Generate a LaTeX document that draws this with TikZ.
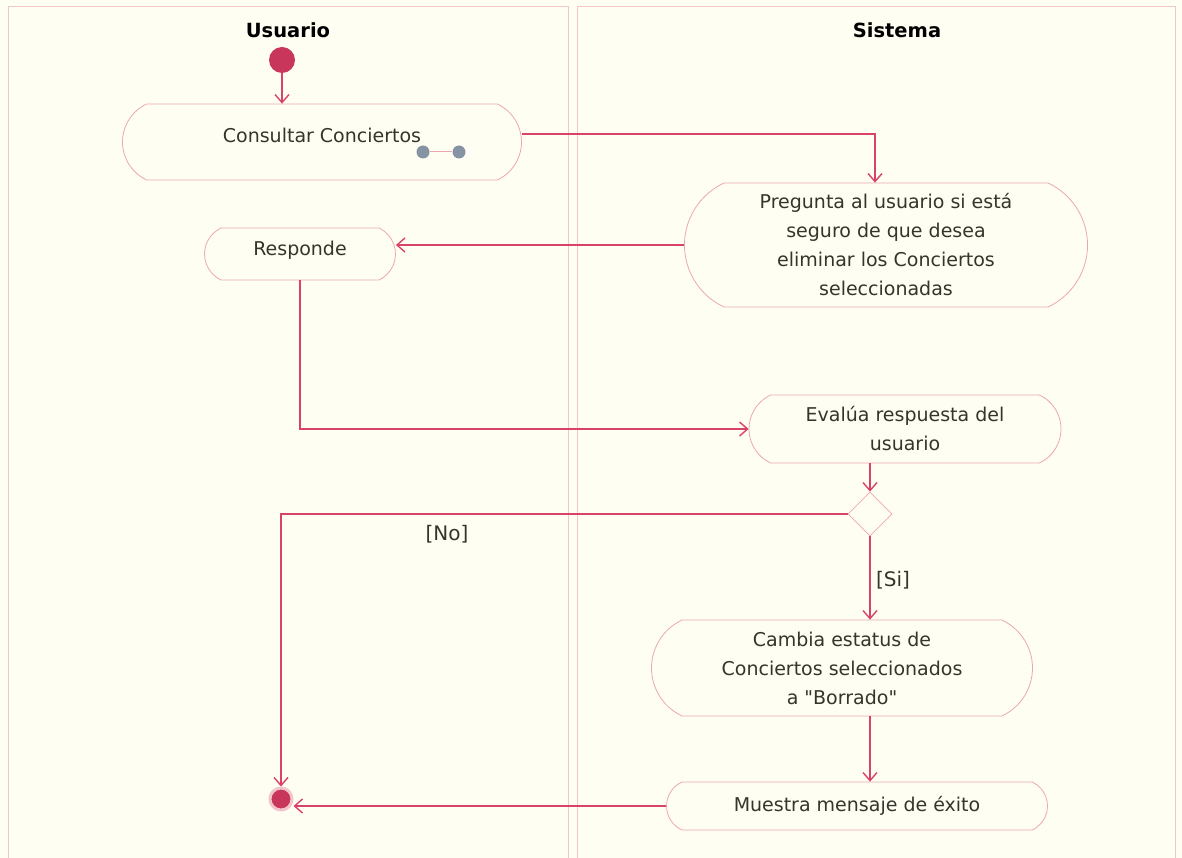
\documentclass[tikz,border=0pt]{standalone}
\usepackage{fontspec}
\newfontfamily\diagfont{DejaVu Sans}
\usetikzlibrary{arrows.meta,shapes.misc,shapes.geometric}
\definecolor{paper}{HTML}{FFFEF3}
\definecolor{lane}{HTML}{F2C4CC}
\definecolor{box}{HTML}{EBA7B2}
\definecolor{flow}{HTML}{D9426A}
\definecolor{dot}{HTML}{C8365C}
\definecolor{chain}{HTML}{8593A3}
\definecolor{ink}{HTML}{35352B}
\begin{document}
\begin{tikzpicture}[x=1pt,y=-1pt,
  act/.style={draw=box, line width=0.8pt, rounded rectangle, rounded rectangle arc length=130,
    align=center, text=ink, inner sep=0pt, font=\diagfont\fontsize{19}{29}\selectfont},
  arr/.style={draw=flow, line width=1.4pt, -{Straight Barb[length=8pt,width=14pt]}},
  title/.style={font=\diagfont\fontsize{19.5}{22}\selectfont\bfseries},
  guard/.style={text=ink, font=\diagfont\fontsize{20}{22}\selectfont},
  chaindot/.style={circle, fill=chain, inner sep=0pt, minimum size=13}]
  \useasboundingbox (0,0) rectangle (1182,858);
  \fill[paper] (0,0) rectangle (1182,858);
  % swimlanes
  \draw[lane, line width=1pt] (8,858) -- (8,7) -- (568,7) -- (568,858);
  \draw[lane, line width=1pt] (577,858) -- (577,7) -- (1175,7) -- (1175,858);
  \node[title] (usuario) at (288,30) {Usuario};
  \node[title] (sistema) at (897,30) {Sistema};
  % nodes
  \node[circle, fill=dot, inner sep=0pt, minimum size=26] (start) at (282,60) {};
  \node[act, minimum width=399, minimum height=76, text depth=13pt] (consultar) at (322,142) {Consultar Conciertos};
  \node[chaindot] (c1) at (423,152) {};
  \node[chaindot] (c2) at (459,152) {};
  \node[act, minimum width=403, minimum height=124] (pregunta) at (886,245)
    {Pregunta al usuario si está\\seguro de que desea\\eliminar los Conciertos\\seleccionadas};
  \node[act, minimum width=191, minimum height=52, text depth=12pt] (responde) at (300,254) {Responde};
  \node[act, minimum width=312, minimum height=68] (evalua) at (905,429) {Evalúa respuesta del\\usuario};
  \node[diamond, draw=box, line width=0.8pt, inner sep=0pt, minimum width=44, minimum height=44] (decide) at (870,514) {};
  \node[act, minimum width=381, minimum height=96] (cambia) at (842,668)
    {Cambia estatus de\\Conciertos seleccionados\\a "Borrado"};
  \node[act, minimum width=381, minimum height=48] (muestra) at (857,806) {Muestra mensaje de éxito};
  \node[circle, fill=dot, draw=lane, line width=3pt, inner sep=0pt, minimum size=22] (final) at (281,799) {};
  \node[guard] (no) at (447,534) {[No]};
  \node[guard] (si) at (893,580) {[Si]};
  % connectors
  \draw[box, line width=1pt] (c1) -- (c2);
  \draw[arr] (start) -- (start |- consultar.north);
  \draw[arr] ([yshift=8pt]consultar.east) -| ([xshift=-11pt]pregunta.north);
  \draw[arr] (pregunta.west) -- (pregunta.west -| responde.east);
  \draw[arr] (responde.south) |- (evalua.west);
  \draw[arr] (evalua.south -| decide) -- (decide.north);
  \draw[arr] (decide.west) -| (final);
  \draw[arr] (decide.south) -- (decide.south |- cambia.north);
  \draw[arr] (cambia.south -| decide) -- (muestra.north -| decide);
  \draw[arr] (muestra.west) -- (muestra.west -| final.east);
\end{tikzpicture}
\end{document}
